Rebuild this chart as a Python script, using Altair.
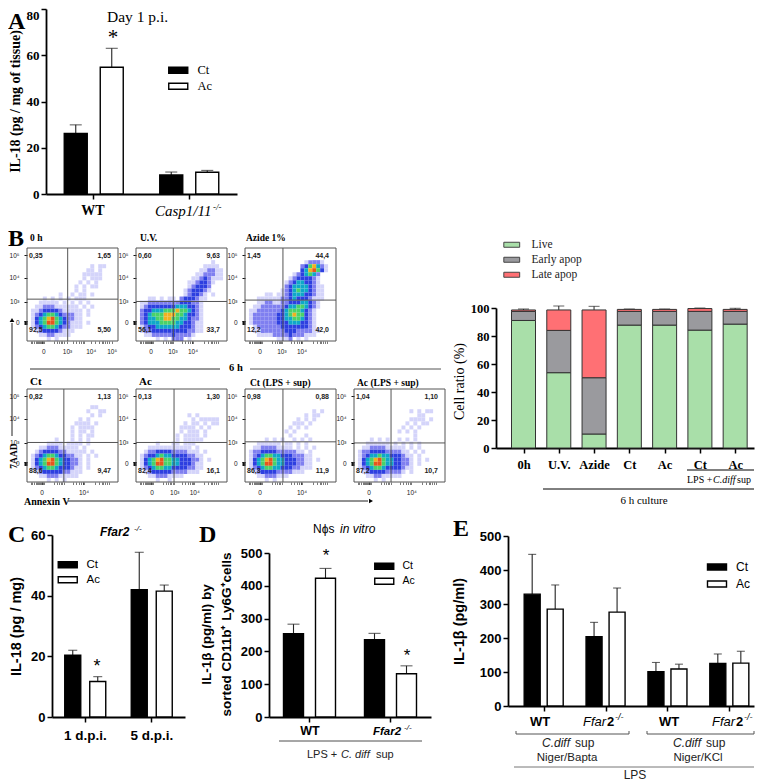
import json
import altair as alt
import pandas as pd

SERIF = "Liberation Serif"
SANS = "Liberation Sans"
ONE = alt.Data(values=[{"a": 1}])

# ---------- values ----------
series = ["Ct", "Ac"]
a_groups = ["WT", "Casp1/11"]
a_mean = [26.2, 54.8, 8.2, 9.4]
a_err = [29.9, 63.0, 9.5, 10.2]

c_groups = ["1 d.p.i.", "5 d.p.i."]
c_mean = [20.4, 11.7, 42.0, 41.5]
c_err = [22.0, 13.3, 54.3, 43.5]

d_groups = ["WT", "Ffar2"]
d_mean = [254, 423, 236, 132]
d_err = [283, 453, 255, 156]

e_groups = [0, 1, 2, 3]
e_mean = [329, 285, 204, 276, 101, 109, 125, 126]
e_err = [446, 356, 246, 347, 128, 123, 153, 161]

b_cats = ["0h", "U.V.", "Azide", "Ct", "Ac", "Ct", "Ac"]
b_kinds = ["Live", "Early apop", "Late apop"]
b_live = [91.1, 53.8, 10.0, 87.8, 87.8, 84.2, 88.5]
b_early = [97.6, 84.0, 50.2, 97.6, 97.6, 97.6, 97.6]
b_late = [98.6, 98.6, 98.6, 99.0, 99.0, 99.6, 99.0]
b_live_err = [92.0, 56.0, 11.7, 88.5, 88.5, 86.4, 89.2]
b_early_err = [98.3, 85.6, 51.7, 98.6, 98.6, 99.0, 99.0]
b_late_err = [99.3, 101.4, 101.2, 99.3, 99.3, 100.0, 99.8]
b_colors = ["#a9dfa9", "#9a9a9e", "#ff7074"]

flow_0h = [
"", "", "", "",
"................1.11...",
"...............11.1....",
"..............11111....",
"..............1.111....",
".............1.1.1.....",
"............1.1.11.....",
"............1.1........",
"........1..1.11.1......",
"....1.1.1.1.111........",
"...11111.1.1.1.1.......",
"..11222111111.1.1......",
".1123333211111.1.......",
".1234554322211.1.......",
".1345675432211.........",
".1345775432111.1.......",
".1234554322111.........",
"..1233332111...........",
"...11221111............",
".....1.1...............",
]
flow_uv = [
"", "", "",
"...................1...",
".................1111..",
"................112211.",
"...............1122211.",
"..............11232111.",
".............1123321...",
".............123332....",
"............1233321....",
"............123321.1...",
"...11.1.11.2333211.....",
".1122222222333221......",
".1233333334443321......",
".2334445556554321......",
".2345556665543321......",
".2344556655443221......",
".2344455554433211......",
".1233444444333211......",
".1223333333332211......",
"..1122222322221........",
".....1.1.222.1.........",
]
flow_azide = [
"", "", "",
"...............12221...",
"..............2356421...",
"..............3467531..",
"............1234542....",
"...........12333321....",
"..........123443321....",
"..........2344443211...",
".........12345443211...",
".....11.112344433211...",
"...11111122343332111...",
"...1122112233344321....",
"..11222222344554321....",
".11222222345554321.....",
".12222223345655321.....",
".12222223344554321.....",
".12222223334443321.....",
"..1222222333333321.....",
"..11222222333222211....",
"...111122223222111.....",
"........1112.1.1.......",
]
flow_ct = [
"", "", "", "",
"................11.....",
"...............1..11...",
"................1.1....",
".............1.1.......",
"............1111.1.....",
"...........1.1111......",
"...........1.11.1......",
"...........1.1.11......",
".......1...1.1.1.......",
".....1111.1111.1.......",
"...1122211111.1........",
"..1233332211111.1......",
".1234554332211.1.1.....",
".1345675433221.1.......",
".1345775433221.1.......",
".1234554333211.1.......",
"..123333322111.........",
"...1122211111..........",
".....1.1.1.............",
]
flow_ac = [
"", "", "", "", "", "",
".............1.1.......",
"..............1.11111..",
"............1.11.1.11..",
"...........1111.1.1....",
"...........1.111.1.....",
"..........1.1111.1.....",
"..........1.11111......",
".....1...11.111........",
"...11111111111.1.......",
"..12233332222111.1.....",
".1233454433332211......",
".1345675544333221.1....",
".1345775544333211......",
".1234554433332211......",
"..12333332222111.......",
"...112221111...........",
".....1..1..............",
]
flow_ct_lps = [
"", "", "", "", "",
".................1.1...",
"...............1.11....",
".............1.1.1.....",
"............111.1......",
"...........1.1.1.......",
"..........1.1..........",
"...........1...1.......",
".....1.1.1..1.1.1......",
"...111111.11.1.1.......",
"..1122221111.1.1.1.....",
".12233332222211.1......",
".1234554433322211......",
".1345675443332211.1....",
".1345775443332211......",
".1234554433322111......",
"..1233332222111........",
"...11222111............",
".....1.1...............",
]
flow_ac_lps = [
"", "", "", "", "",
"..............1.1.11...",
"................11.....",
"..............1111.1...",
".............1.1.11....",
"............1.1.1......",
"...........1.1.1.......",
"...............1.......",
"....1.1.1..1.1.1.......",
"...111111.1.1.1.1......",
"..11222211111.1.1......",
".1223333222211.1.1.....",
".12344544333211.1......",
".13456754433221.1.1....",
".13457754433221.1......",
".12345543333211........",
"..12333322221.1........",
"...112211111...........",
".....1.1...............",
]
flow_levels = ["1", "2", "3", "4", "5", "6", "7"]
flow_colors = ["#d4d4fa", "#7f7ff0", "#2d3fe0", "#0fa8c8", "#49d268", "#f2b01f", "#e8551c"]
flow_y_major = [20, 42, 68, 92]


# ---------- helpers ----------
class P:
    """Annotation helper: takes page pixels, places them relative to a panel origin."""
    def __init__(self, ox, oy):
        self.ox, self.oy = ox, oy

    def t(self, s, x, y, size=11, font=SERIF, bold=False, italic=False, color="black",
          align="left", baseline="alphabetic", angle=None):
        kw = dict(text=s, fontSize=size, font=font, color=color, align=align, baseline=baseline)
        if bold:
            kw["fontWeight"] = "bold"
        if italic:
            kw["fontStyle"] = "italic"
        if angle is not None:
            kw["angle"] = angle
        return alt.Chart(ONE).mark_text(**kw).encode(
            x=alt.value(x - self.ox), y=alt.value(y - self.oy))

    def line(self, x1, y1, x2, y2, color="black", width=1.0):
        return alt.Chart(ONE).mark_rule(color=color, strokeWidth=width).encode(
            x=alt.value(x1 - self.ox), x2=alt.value(x2 - self.ox),
            y=alt.value(y1 - self.oy), y2=alt.value(y2 - self.oy))

    def tri(self, x, y, shape, size=22):
        return alt.Chart(ONE).mark_point(shape=shape, filled=True, color="black", size=size, opacity=1).encode(
            x=alt.value(x - self.ox), y=alt.value(y - self.oy))

    def frame(self, w, h, color="#555"):
        return alt.Chart(ONE).mark_rect(fillOpacity=0, stroke=color, strokeWidth=1).encode(
            x=alt.value(0), x2=alt.value(w), y=alt.value(0), y2=alt.value(h))


def spacer(w=1, h=1):
    return alt.Chart(ONE).mark_text(text="", fontSize=1).encode(
        x=alt.value(0), y=alt.value(1)).properties(width=w, height=h)


SWATCH = "M-3.17,-1H3.17V1H-3.17Z"


def ct_legend(x, y, font, size, row_gap):
    return alt.Legend(orient="none", legendX=x, legendY=y, title=None, symbolType=SWATCH, symbolSize=36,
                      symbolStrokeColor="black", symbolStrokeWidth=1.4, labelFont=font, labelFontSize=size,
                      labelOffset=13, rowPadding=row_gap, padding=0, labelColor="black")


def grouped(groups, mean, err, w, ydom, yrange, bar_w, sep, cap, legend, yaxis, xaxis):
    rows = []
    i = 0
    for g in groups:
        for s in series:
            rows.append({"g": g, "s": s, "v": mean[i], "e": err[i]})
            i += 1
    df = pd.DataFrame(rows)
    band = w / len(groups)
    pi = 1 - bar_w / sep
    po = (band / sep - 2 + pi) / 2
    xsc = alt.Scale(domain=groups, paddingInner=0, paddingOuter=0, range=[0, w])
    x = alt.X("g:N", scale=xsc, axis=xaxis, title=None)
    xo = alt.XOffset("s:N", scale=alt.Scale(domain=series, paddingInner=pi, paddingOuter=po))
    ysc = alt.Scale(domain=ydom, range=yrange, nice=False)
    bars = alt.Chart(df).mark_bar(stroke="black", strokeWidth=1.4).encode(
        x=x, xOffset=xo, y=alt.Y("v:Q", scale=ysc, axis=yaxis),
        fill=alt.Fill("s:N", scale=alt.Scale(domain=series, range=["black", "white"]), legend=legend))
    rule = alt.Chart(df).mark_rule(color="#222", strokeWidth=1.1).encode(
        x=x, xOffset=xo, y=alt.Y("v:Q", scale=ysc), y2="e:Q")
    tick = alt.Chart(df).mark_tick(color="#222", thickness=1.1, size=cap, orient="horizontal").encode(
        x=x, xOffset=xo, y=alt.Y("e:Q", scale=ysc))
    return [rule, tick, bars]


def axis_y(values, font, size, title, title_x, title_y, title_size, title_font=None, title_bold=True, **kw):
    return alt.Axis(values=values, tickCount=20, grid=False, domainColor="black", domainWidth=1.8, tickColor="black",
                    tickWidth=1.5, tickSize=5, labelFont=font, labelFontSize=size, labelFontWeight="bold",
                    labelColor="black", labelPadding=2, labelOverlap=False, title=title, titleX=title_x, titleY=title_y,
                    titleFont=title_font or font, titleFontSize=title_size,
                    titleFontWeight="bold" if title_bold else "normal", titleColor="black", **kw)


def axis_x(labels=False, font=SANS, size=12, pad=6, domain=True, offset=0, **extra):
    kw = dict(labels=labels, grid=False, domain=domain, domainColor="black", domainWidth=1.8, tickColor="black",
              tickWidth=1.5, tickSize=5, title=None, offset=offset)
    if labels:
        kw.update(labelFont=font, labelFontSize=size, labelFontWeight="bold", labelColor="black",
                  labelAngle=0, labelPadding=pad, labelOverlap=False)
    kw.update(extra)
    return alt.Axis(**kw)


# ---------- panel A ----------
pa = P(46, 8)
A_W, A_H = 191, 185
a_axis = axis_y([0, 20, 40, 60, 80], SERIF, 13, "IL-18 (pg / mg of tissue)", -24, 92, 14,
                labelBaseline={"condition": {"test": "datum.value==80", "value": "top"}, "value": "middle"})
a_layers = grouped(a_groups, a_mean, a_err, A_W, [0, 80], [A_H, 0], 23, 36, 12,
                   ct_legend(126, 55, SERIF, 12.5, 3), a_axis, axis_x())
a_text = [
    pa.t("A", 8, 9, 24, bold=True, baseline="top"),
    pa.t("Day 1 p.i.", 107, 21, 15.5),
    pa.t("*", 113, 43, 21, align="center"),
    pa.t("WT", 93, 214, 14, bold=True, align="center"),
    pa.t("Casp1/11", 155, 215, 15, italic=True),
    pa.t("-/-", 213, 209, 9, italic=True),
]
panel_a = alt.layer(*a_layers, *a_text).properties(width=1, height=A_H)


# ---------- flow panels ----------
FW, FH = 91, 93


def flow(grid, title, tx, ty, tsize, vx, hy, x_major, q, extra=()):
    rows = []
    for r, line in enumerate(grid):
        for c, ch in enumerate(line):
            if ch != ".":
                rows.append({"x": c * 100 / 23, "x2": (c + 1) * 100 / 23,
                             "y": 100 * (23 - r) / 23, "y2": 100 * (22 - r) / 23, "lv": ch})
    df = pd.DataFrame(rows)
    minor_x = [4, 6, 8, 10, 11, 12, 13, 14, 15, 16, 17, 18, 19, 30, 33, 35, 37, 39, 41,
               50, 54, 57, 59, 61, 63, 75, 79, 82, 84, 86, 88, 90]
    xlab = "0|10³|10⁴|10⁵".split("|")
    if len(x_major) == 2:
        xlab = ["0", "10⁴"]
    expr = " : ".join(f"datum.value=={v} ? '{xlab[i]}'" for i, v in enumerate(x_major)) + " : ''"
    xax = alt.Axis(values=sorted(set(minor_x + x_major)), tickCount=100, labelExpr=expr, grid=False, domain=False,
                   tickColor="#222", tickWidth=0.6, tickSize=2.5, labelFont=SANS, labelFontSize=6.5, labelColor="#222",
                   labelPadding=5, labelOverlap=False, labelFlush=False, title=None)
    ylab = {20: "0", 42: "10³", 68: "10⁴", 92: "10⁵"}
    yexpr = " : ".join(f"datum.value=={v} ? '{s}'" for v, s in ylab.items()) + " : ''"
    yax = alt.Axis(values=sorted(flow_y_major + [18, 19, 21, 22]), tickCount=100, labelExpr=yexpr, grid=False,
                   domain=False, tickColor="#111", tickWidth=1, tickSize=3, labelFont=SANS, labelFontSize=6.5,
                   labelColor="#222", labelPadding=5, labelOverlap=False, labelFlush=False, title=None)
    cells = alt.Chart(df).mark_rect(strokeWidth=0).encode(
        x=alt.X("x:Q", scale=alt.Scale(domain=[0, 100], nice=False, range=[0, FW]), axis=xax),
        x2="x2:Q",
        y=alt.Y("y:Q", scale=alt.Scale(domain=[0, 100], nice=False), axis=yax),
        y2="y2:Q",
        fill=alt.Fill("lv:N", scale=alt.Scale(domain=flow_levels, range=flow_colors), legend=None))
    o = P(0, 0)
    lay = [cells,
           o.frame(FW, FH),
           o.line(vx / 100 * FW, 0, vx / 100 * FW, FH, "#555", 1),
           o.line(0, hy / 100 * FH, FW, hy / 100 * FH, "#555", 1),
           o.t(q[0], 2, 8, 7, SANS, bold=True, color="#222", baseline="middle"),
           o.t(q[1], FW - 7, 8, 7, SANS, bold=True, color="#222", baseline="middle", align="right"),
           o.t(q[2], 2, 82, 7, SANS, bold=True, color="#222", baseline="middle"),
           o.t(q[3], FW - 7, 82, 7, SANS, bold=True, color="#222", baseline="middle", align="right"),
           o.t(title, tx, ty, tsize, bold=True, baseline="middle")]
    return alt.layer(*lay, *extra).properties(width=1, height=FH)


pb = P(27, 247)
b_anno = [
    pb.t("B", 8, 226, 24, bold=True, baseline="top"),
    pb.line(12, 322, 12, 435, "#222", 1),
    pb.tri(12, 319, "triangle-up"),
    pb.t("7AAD", 14, 455, 9.5, bold=True, align="center", baseline="middle", angle=270),
    pb.t("Annexin V", 24, 501, 10, bold=True, baseline="middle"),
    pb.line(68, 500, 368, 500, "#222", 1),
    pb.tri(371, 500, "triangle-right"),
    pb.t("6 h", 229, 367, 10.5, bold=True, baseline="middle"),
    pb.line(30, 368, 220, 368, "#333", 1),
    pb.line(250, 368, 441, 368, "#555", 1),
]

f1 = flow(flow_0h, "0 h", 3, -10, 9.5, 44.7, 55, [18, 44, 70, 93], ["0,35", "1,65", "92,5", "5,50"], b_anno)
f2 = flow(flow_uv, "U.V.", 4, -10, 9.5, 41, 57.5, [16, 40, 62], ["0,60", "9,63", "56,1", "33,7"])
f3 = flow(flow_azide, "Azide 1%", 1, -10, 9.5, 41.7, 56, [16, 40, 62], ["1,45", "44,4", "12,2", "42,0"])
f4 = flow(flow_ct, "Ct", 3, -7, 11, 40.5, 57.5, [16, 62], ["0,82", "1,13", "88,6", "9,47"])
f5 = flow(flow_ac, "Ac", 3, -7, 11, 41.8, 57.5, [17, 42, 64], ["0,13", "1,30", "82,4", "16,1"])
f6 = flow(flow_ct_lps, "Ct (LPS + sup)", 5, -6, 9.5, 41.7, 56.8, [16, 62], ["0,98", "0,88", "86,3", "11,9"])
f7 = flow(flow_ac_lps, "Ac (LPS + sup)", 3, -6, 9.5, 40.7, 58, [16, 63], ["1,04", "1,10", "87,2", "10,7"])


# ---------- stacked bars of panel B ----------
BW, BH = 258, 200
rows = []
for i, c in enumerate(b_cats):
    rows.append({"c": i, "k": "Live", "y0": 0, "y1": b_live[i], "e": b_live_err[i]})
    rows.append({"c": i, "k": "Early apop", "y0": b_live[i], "y1": b_early[i], "e": b_early_err[i]})
    rows.append({"c": i, "k": "Late apop", "y0": b_early[i], "y1": b_late[i], "e": b_late_err[i]})
bdf = pd.DataFrame(rows)
b_ax = axis_x(True, SERIF, 12.5, 5, offset=BH - FH, values=list(range(len(b_cats))), tickCount=20,
              labelExpr=json.dumps(b_cats) + "[datum.value]")
bx = alt.X("c:Q", scale=alt.Scale(domain=[-0.638, 6.392], range=[0, BW], nice=False, zero=False), axis=b_ax, title=None)
bsc = alt.Scale(domain=[0, 100], range=[BH, 60], nice=False)
b_axis = axis_y([0, 20, 40, 60, 80, 100], SERIF, 12.5, "Cell ratio (%)", -30, 133, 14, title_bold=False)
s_bars = alt.Chart(bdf).mark_bar(stroke="#333", strokeWidth=1, width=24, orient="vertical").encode(
    x=bx, y=alt.Y("y1:Q", scale=bsc, axis=b_axis, stack=None), y2="y0:Q",
    fill=alt.Fill("k:N", scale=alt.Scale(domain=b_kinds, range=b_colors),
                  legend=alt.Legend(orient="none", legendX=10, legendY=-9, title=None, symbolType=SWATCH, symbolSize=25,
                                    symbolStrokeColor="#444", symbolStrokeWidth=1, labelFont=SERIF, labelFontSize=11.5,
                                    labelOffset=14, rowPadding=2, padding=0, labelColor="#222")))
s_rule = alt.Chart(bdf).mark_rule(color="#222", strokeWidth=1).encode(
    x=bx, y=alt.Y("y1:Q", scale=bsc), y2="e:Q")
s_tick = alt.Chart(bdf).mark_tick(color="#222", thickness=1, size=11, orient="horizontal").encode(
    x=bx, y=alt.Y("e:Q", scale=bsc))
pg = P(496, 247)
g_text = [
    pg.line(687, 469, 754, 469, "black", 1),
    pg.t("LPS + ", 687, 482, 10),
    pg.t("C.diff", 713, 482, 10, italic=True),
    pg.t("sup", 737, 482, 10),
    pg.line(543, 488, 754, 488, "black", 1),
    pg.t("6 h culture", 644, 503, 11, align="center"),
]
panel_g = alt.layer(s_rule, s_tick, s_bars, *g_text).properties(width=1, height=FH)


# ---------- panel C ----------
pc = P(52, 534)
C_W, C_H = 133, 182
c_axis = axis_y([0, 20, 40, 60], SANS, 13, "IL-18 (pg / mg)", -29, 91, 14.5)
c_layers = grouped(c_groups, c_mean, c_err, C_W, [0, 60], [C_H, 0], 16, 25, 9,
                   ct_legend(10, 24, SANS, 11.5, 2), c_axis, axis_x(True, SANS, 13.5, 6))
c_text = [
    pc.t("C", 8, 522, 24, bold=True, baseline="top"),
    pc.t("Ffar2", 100, 535, 12, SANS, bold=True, italic=True),
    pc.t("-/-", 134, 530, 8, SANS, italic=True),
    pc.t("*", 97, 671, 18, SANS, align="center"),
]
panel_c = alt.layer(*c_layers, *c_text).properties(width=1, height=C_H)


# ---------- panel D ----------
pd_ = P(269, 534)
D_W, D_H = 162, 182
d_axis = axis_y([0, 100, 200, 300, 400, 500], SANS, 13, ["IL-1β (pg/ml) by", "sorted CD11b⁺ Ly6G⁺cells"],
                -56, 99, 13.5, titleLineHeight=20)
d_layers = grouped(d_groups, d_mean, d_err, D_W, [0, 500], [D_H, 18], 20, 32, 12,
                   ct_legend(110, 26, SANS, 10.5, 2), d_axis, axis_x())
d_text = [
    pd_.t("D", 199, 522, 24, bold=True, baseline="top"),
    pd_.t("Nϕs ", 313, 532, 12, SANS),
    pd_.t("in vitro", 340, 532, 12, SANS, italic=True),
    pd_.t("*", 326, 560, 17, SANS, align="center"),
    pd_.t("*", 407, 660, 17, SANS, align="center"),
    pd_.t("WT", 310, 734, 12.5, SANS, bold=True, align="center"),
    pd_.t("Ffar2", 373, 734, 11.5, SANS, bold=True, italic=True),
    pd_.t("-/-", 404, 729, 8, SANS, italic=True),
    pd_.line(279, 740, 422, 740, "#222", 0.8),
    pd_.t("LPS + ", 307, 757, 11, SANS, color="#222"),
    pd_.t("C. diff", 341, 757, 11, SANS, italic=True, color="#222"),
    pd_.t("sup", 376, 757, 11, SANS, color="#222"),
]
panel_d = alt.layer(*d_layers, *d_text).properties(width=1, height=D_H)


# ---------- panel E ----------
pe = P(508, 534)
E_W, E_H = 246, 171
e_axis = axis_y([0, 100, 200, 300, 400, 500], SANS, 13, "IL-1β (pg/ml)", -42, 86, 14.5)
e_rows = []
for i, g in enumerate(e_groups):
    for j, s in enumerate(series):
        k = 2 * i + j
        e_rows.append({"x": g + (-0.186 if j == 0 else 0.186), "s": s, "v": e_mean[k], "e": e_err[k]})
edf = pd.DataFrame(e_rows)
e_x_ax = axis_x(values=e_groups, tickCount=20)
ex = alt.X("x:Q", scale=alt.Scale(domain=[-0.496, 3.318], range=[0, E_W], nice=False, zero=False),
           axis=e_x_ax, title=None)
esc = alt.Scale(domain=[0, 500], range=[E_H, 1], nice=False)
e_bars = alt.Chart(edf).mark_bar(stroke="black", strokeWidth=1.4, width=16, orient="vertical").encode(
    x=ex, y=alt.Y("v:Q", scale=esc, axis=e_axis, stack=None),
    fill=alt.Fill("s:N", scale=alt.Scale(domain=series, range=["black", "white"]), legend=ct_legend(203, 26, SANS, 12, 5)))
e_rule = alt.Chart(edf).mark_rule(color="#222", strokeWidth=1.1).encode(x=ex, y=alt.Y("v:Q", scale=esc), y2="e:Q")
e_tick = alt.Chart(edf).mark_tick(color="#222", thickness=1.1, size=8, orient="horizontal").encode(
    x=ex, y=alt.Y("e:Q", scale=esc))
e_text = [
    pe.t("E", 453, 516, 24, bold=True, baseline="top"),
    pe.t("WT", 540, 725, 13, SANS, bold=True, align="center"),
    pe.t("Ffar", 583, 725, 13, SANS, italic=True),
    pe.t("2", 607, 725, 13, SANS, bold=True),
    pe.t("-/-", 615, 719, 9, SANS, italic=True),
    pe.t("WT", 669, 725, 13, SANS, bold=True, align="center"),
    pe.t("Ffar", 712, 725, 13, SANS, italic=True),
    pe.t("2", 736, 725, 13, SANS, bold=True),
    pe.t("-/-", 744, 719, 9, SANS, italic=True),
    pe.line(516, 733, 629, 733, "#555", 1),
    pe.line(516, 730, 516, 733, "#555", 1),
    pe.line(629, 730, 629, 733, "#555", 1),
    pe.line(647, 733, 754, 733, "#555", 1),
    pe.line(647, 730, 647, 733, "#555", 1),
    pe.line(754, 730, 754, 733, "#555", 1),
    pe.t("C.diff", 542, 746, 12, SANS, italic=True, color="#222"),
    pe.t("sup", 575, 746, 12, SANS, color="#222"),
    pe.t("Niger/Bapta", 567, 760, 11.5, SANS, align="center", color="#222"),
    pe.t("C.diff", 673, 746, 12, SANS, italic=True, color="#222"),
    pe.t("sup", 706, 746, 12, SANS, color="#222"),
    pe.t("Niger/KCl", 698, 760, 11.5, SANS, align="center", color="#222"),
    pe.line(514, 766, 754, 766, "#777", 1),
    pe.t("LPS", 635, 778, 12, SANS, align="center", color="#222"),
]
panel_e = alt.layer(e_rule, e_tick, e_bars, *e_text).properties(width=1, height=E_H)


# ---------- layout: one flat grid; panels only anchor their origin in a cell ----------
col_widths = [19, 19, 6, 84, 109, 24, 85, 142, 12, 1]
N = len(col_widths)
S = spacer


def row(height, placed):
    items = [placed.get(i, S()) for i in range(N)]
    if 0 not in placed:
        items[0] = S(1, height)
    return items


cells = (
    row(239, {2: panel_a})
    + row(141, {1: f1, 4: f2, 5: f3, 8: panel_g})
    + row(146, {1: f4, 4: f5, 5: f6, 7: f7})
    + row(1, {3: panel_c, 6: panel_d, 9: panel_e})
    + [S(w, 1) for w in col_widths]
)
chart = alt.concat(*cells, columns=N, spacing=0, bounds="flush", align="each").resolve_scale(
    fill="independent", xOffset="independent").properties(padding=0).configure_view(stroke=None)

chart.save("out.html", embed_options={"renderer": "svg", "actions": False})
